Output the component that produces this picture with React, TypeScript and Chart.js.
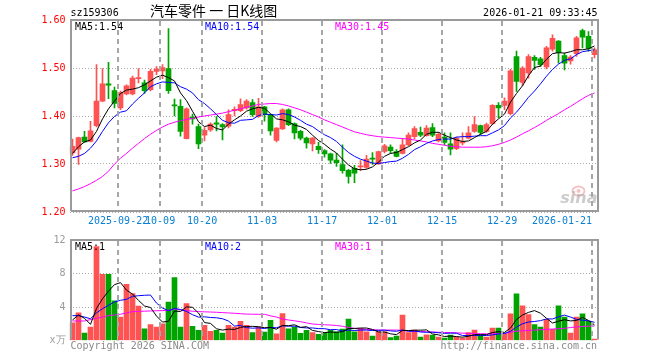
import React, { useEffect, useRef } from "react";
import { Chart, registerables } from "chart.js";

Chart.register(...registerables);

const dates = [
  "2025-09-10","2025-09-11","2025-09-12","2025-09-15","2025-09-16","2025-09-17","2025-09-18","2025-09-19","2025-09-22","2025-09-23",
  "2025-09-24","2025-09-25","2025-09-26","2025-09-29","2025-09-30","2025-10-09","2025-10-10","2025-10-13","2025-10-14","2025-10-15",
  "2025-10-16","2025-10-17","2025-10-20","2025-10-21","2025-10-22","2025-10-23","2025-10-24","2025-10-27","2025-10-28","2025-10-29",
  "2025-10-30","2025-10-31","2025-11-03","2025-11-04","2025-11-05","2025-11-06","2025-11-07","2025-11-10","2025-11-11","2025-11-12",
  "2025-11-13","2025-11-14","2025-11-17","2025-11-18","2025-11-19","2025-11-20","2025-11-21","2025-11-24","2025-11-25","2025-11-26",
  "2025-11-27","2025-11-28","2025-12-01","2025-12-02","2025-12-03","2025-12-04","2025-12-05","2025-12-08","2025-12-09","2025-12-10",
  "2025-12-11","2025-12-12","2025-12-15","2025-12-16","2025-12-17","2025-12-18","2025-12-19","2025-12-22","2025-12-23","2025-12-24",
  "2025-12-25","2025-12-26","2025-12-29","2025-12-30","2025-12-31","2026-01-05","2026-01-06","2026-01-07","2026-01-08","2026-01-09",
  "2026-01-12","2026-01-13","2026-01-14","2026-01-15","2026-01-16","2026-01-19","2026-01-20","2026-01-21",
];

const opens = [
  1.323,1.331,1.356,1.347,1.380,1.431,1.467,1.453,1.417,1.446,
  1.446,1.478,1.469,1.455,1.493,1.494,1.499,1.423,1.420,1.353,
  1.398,1.378,1.360,1.371,1.386,1.382,1.379,1.411,1.411,1.417,
  1.428,1.399,1.419,1.403,1.349,1.373,1.413,1.384,1.368,1.354,
  1.342,1.337,1.328,1.321,1.308,1.299,1.287,1.291,1.294,1.293,
  1.311,1.300,1.326,1.335,1.326,1.322,1.340,1.357,1.366,1.359,
  1.376,1.348,1.356,1.342,1.332,1.344,1.354,1.368,1.380,1.368,
  1.384,1.422,1.422,1.405,1.524,1.470,1.490,1.522,1.519,1.502,
  1.539,1.556,1.526,1.515,1.530,1.578,1.566,1.528,
];
const highs = [
  1.352,1.356,1.368,1.389,1.507,1.499,1.512,1.460,1.452,1.465,
  1.483,1.499,1.475,1.497,1.503,1.507,1.582,1.435,1.434,1.417,
  1.404,1.383,1.376,1.386,1.399,1.384,1.413,1.419,1.436,1.434,
  1.434,1.437,1.420,1.404,1.376,1.415,1.415,1.386,1.370,1.356,
  1.355,1.345,1.330,1.323,1.322,1.340,1.289,1.297,1.307,1.318,
  1.324,1.327,1.341,1.340,1.330,1.353,1.365,1.378,1.377,1.380,
  1.384,1.366,1.365,1.365,1.356,1.365,1.378,1.399,1.381,1.385,
  1.424,1.428,1.438,1.497,1.535,1.503,1.528,1.526,1.522,1.545,
  1.569,1.557,1.531,1.526,1.566,1.581,1.576,1.542,
];
const lows = [
  1.318,1.299,1.345,1.346,1.377,1.430,1.436,1.417,1.413,1.444,
  1.444,1.469,1.447,1.452,1.486,1.478,1.447,1.400,1.358,1.352,
  1.383,1.332,1.348,1.368,1.369,1.350,1.375,1.400,1.409,1.414,
  1.399,1.397,1.389,1.360,1.346,1.372,1.380,1.352,1.350,1.333,
  1.327,1.322,1.314,1.301,1.295,1.281,1.260,1.261,1.286,1.291,
  1.299,1.299,1.323,1.322,1.315,1.321,1.338,1.352,1.357,1.358,
  1.357,1.346,1.340,1.319,1.330,1.340,1.352,1.366,1.361,1.366,
  1.382,1.396,1.413,1.402,1.451,1.463,1.479,1.497,1.503,1.498,
  1.535,1.510,1.496,1.508,1.524,1.542,1.535,1.521,
];
const closes = [
  1.337,1.355,1.346,1.369,1.431,1.467,1.464,1.426,1.449,1.463,
  1.479,1.480,1.453,1.493,1.498,1.501,1.453,1.421,1.368,1.415,
  1.394,1.342,1.370,1.383,1.383,1.377,1.403,1.414,1.424,1.431,
  1.403,1.419,1.403,1.369,1.375,1.413,1.382,1.365,1.354,1.344,
  1.354,1.330,1.321,1.308,1.303,1.286,1.274,1.281,1.295,1.310,
  1.310,1.326,1.338,1.328,1.316,1.340,1.360,1.374,1.360,1.375,
  1.360,1.362,1.345,1.331,1.354,1.345,1.365,1.382,1.366,1.382,
  1.422,1.417,1.431,1.494,1.472,1.500,1.524,1.516,1.507,1.542,
  1.562,1.532,1.510,1.523,1.563,1.564,1.541,1.538,
];
const ma5 = [
  1.322,1.336,1.346,1.350,1.368,1.394,1.415,1.431,1.447,1.454,
  1.456,1.459,1.465,1.473,1.481,1.485,1.480,1.473,1.448,1.432,
  1.410,1.388,1.378,1.381,1.374,1.371,1.383,1.392,1.400,1.410,
  1.415,1.418,1.416,1.405,1.394,1.392,1.388,1.381,1.378,1.372,
  1.360,1.349,1.341,1.331,1.323,1.310,1.298,1.290,1.288,1.289,
  1.294,1.304,1.316,1.322,1.324,1.330,1.336,1.344,1.350,1.362,
  1.366,1.366,1.360,1.355,1.350,1.347,1.348,1.355,1.362,1.368,
  1.383,1.394,1.404,1.429,1.447,1.463,1.484,1.501,1.504,1.518,
  1.530,1.532,1.531,1.534,1.538,1.538,1.540,1.546,
];
const ma10 = [
  1.313,1.316,1.322,1.333,1.348,1.368,1.386,1.399,1.408,1.411,
  1.425,1.437,1.448,1.461,1.467,1.471,1.470,1.469,1.461,1.456,
  1.448,1.434,1.426,1.415,1.403,1.391,1.386,1.385,1.391,1.392,
  1.393,1.401,1.404,1.403,1.402,1.405,1.403,1.398,1.391,1.383,
  1.378,1.369,1.361,1.355,1.347,1.335,1.324,1.316,1.310,1.306,
  1.302,1.301,1.303,1.305,1.306,1.312,1.320,1.330,1.336,1.343,
  1.348,1.351,1.352,1.352,1.356,1.357,1.357,1.358,1.359,1.359,
  1.365,1.371,1.380,1.396,1.408,1.423,1.439,1.452,1.467,1.483,
  1.497,1.508,1.516,1.519,1.528,1.534,1.536,1.538,
];
const ma30 = [
  1.244,1.248,1.253,1.259,1.266,1.274,1.285,1.300,1.312,1.322,
  1.333,1.343,1.353,1.362,1.370,1.377,1.383,1.387,1.390,1.393,
  1.395,1.398,1.400,1.402,1.404,1.406,1.409,1.412,1.415,1.418,
  1.421,1.424,1.425,1.426,1.426,1.424,1.421,1.417,1.413,1.408,
  1.403,1.398,1.392,1.387,1.382,1.377,1.372,1.367,1.364,1.361,
  1.359,1.357,1.356,1.355,1.354,1.353,1.352,1.350,1.348,1.346,
  1.343,1.341,1.339,1.337,1.336,1.335,1.335,1.335,1.335,1.336,
  1.338,1.341,1.345,1.350,1.356,1.363,1.369,1.376,1.383,1.391,
  1.398,1.405,1.413,1.420,1.428,1.436,1.443,1.448,
];
const volumes = [
  2.1,3.3,0.9,1.6,11.2,7.9,7.9,4.75,2.8,6.7,
  5.6,4.1,1.4,1.9,1.6,2.0,4.6,7.5,1.6,4.4,
  1.7,1.2,1.8,1.1,1.2,0.9,1.8,1.6,2.3,1.8,
  0.95,1.6,1.0,2.4,0.8,3.2,1.4,1.6,0.85,1.2,
  0.95,0.75,0.95,1.2,1.04,1.37,2.57,1.04,1.45,1.04,
  0.52,1.04,1.04,0.36,0.52,3.05,0.96,1.24,0.40,0.68,
  0.64,0.40,0.28,0.64,0.40,0.28,0.96,1.24,0.64,0.40,
  1.49,1.49,0.84,3.17,5.58,4.14,3.09,1.89,1.61,2.53,
  1.33,4.14,2.81,0.88,2.81,3.17,2.29,0.16,
];
const volMa5 = [
  2.45,3.05,2.65,1.93,3.82,4.98,5.90,6.67,6.91,6.01,
  5.55,4.79,4.12,3.94,2.92,2.20,2.30,3.52,3.46,4.02,
  3.96,3.28,2.14,2.04,1.40,1.24,1.36,1.32,1.56,1.68,
  1.69,1.65,1.53,1.55,1.35,1.80,1.76,1.88,1.57,1.65,
  1.20,1.07,0.94,1.01,0.98,1.06,1.43,1.44,1.49,1.49,
  1.32,1.02,1.02,0.80,0.70,1.20,1.19,1.23,1.23,1.27,
  0.78,0.67,0.48,0.53,0.47,0.40,0.51,0.70,0.70,0.70,
  0.95,1.05,0.97,1.48,2.51,3.04,3.36,3.57,3.26,2.65,
  2.09,2.30,2.48,2.34,2.39,2.76,2.39,1.86,
];
const volMa10 = [
  2.97,2.97,2.80,2.60,3.30,3.80,4.20,4.60,4.80,4.92,
  5.27,5.35,5.40,5.43,4.47,3.88,3.55,3.82,3.70,3.47,
  3.08,2.79,2.83,2.75,2.71,2.60,2.32,1.73,1.80,1.54,
  1.47,1.51,1.43,1.56,1.52,1.75,1.71,1.71,1.56,1.50,
  1.50,1.42,1.41,1.29,1.31,1.13,1.25,1.19,1.25,1.24,
  1.19,1.22,1.23,1.15,1.10,1.26,1.10,1.12,1.02,0.98,
  0.99,0.93,0.85,0.88,0.87,0.59,0.59,0.59,0.62,0.59,
  0.67,0.78,0.84,1.09,1.61,2.00,2.21,2.27,2.37,2.58,
  2.57,2.83,3.03,2.80,2.52,2.43,2.35,2.17,
];
const volMa30 = [
  2.33,2.33,2.33,2.50,2.65,2.80,2.97,3.05,3.13,3.30,
  3.45,3.48,3.50,3.53,3.55,3.57,3.60,3.75,3.65,3.57,
  3.50,3.45,3.42,3.40,3.37,3.33,3.29,3.25,3.20,3.15,
  3.14,3.13,3.13,2.95,2.80,2.57,2.45,2.35,2.25,2.10,
  1.97,1.92,1.88,1.85,1.79,1.70,1.55,1.45,1.37,1.32,
  1.28,1.25,1.25,1.25,1.25,1.20,1.14,1.10,1.07,1.04,
  1.01,0.98,0.96,0.94,0.92,0.88,0.85,0.82,0.81,0.80,
  0.80,0.82,0.85,0.98,1.12,1.16,1.20,1.24,1.28,1.33,
  1.37,1.41,1.45,1.55,1.62,1.68,1.71,1.73,
];

const tickDates = ["2025-09-22","2025-10-09","2025-10-20","2025-11-03","2025-11-17","2025-12-01","2025-12-15","2025-12-29","2026-01-21"];
const tickLabels = ["2025-09-22","10-09","10-20","11-03","11-17","12-01","12-15","12-29","2026-01-21"];
const priceTicks = [1.2, 1.3, 1.4, 1.5, 1.6];
const volumeTicks = [0, 4, 8, 12];
const priceLegend = ["MA5:1.54", "MA10:1.54", "MA30:1.45"];
const volumeLegend = ["MA5:1", "MA10:2", "MA30:1"];
const symbolText = "sz159306";
const titleText = "汽车零件 一 日K线图";
const timeText = "2026-01-21 09:33:45";
const copyrightText = "Copyright 2026 SINA.COM";
const urlText = "http://finance.sina.com.cn";

const MONO = '"DejaVu Sans Mono", monospace';
const UP = "#ff5252";
const DOWN = "#00a400";
const LINE_COLORS = ["#000000", "#0000ff", "#ff00ff"];

// frame around the plot plus dashed vertical grid at the x ticks
function makeFrame(drawBottom: boolean) {
  return {
    id: "frame",
    afterDraw(chart: any) {
      const { ctx, chartArea } = chart;
      const xs = chart.scales.x;
      ctx.save();
      ctx.strokeStyle = "#a6a6a6";
      ctx.lineWidth = 2;
      ctx.setLineDash([5, 4]);
      const n = xs.ticks.length;
      for (let i = 1; i < n; i++) {
        const px = Math.round(xs.getPixelForTick(i));
        ctx.beginPath();
        ctx.moveTo(px, chartArea.top + 1);
        ctx.lineTo(px, chartArea.bottom);
        ctx.stroke();
      }
      ctx.setLineDash([]);
      const xL = Math.round(chartArea.left) + 1;
      const xR = Math.round(chartArea.right);
      const yT = chartArea.top;
      const yB = chartArea.bottom - 1;
      ctx.strokeStyle = "#9a9a9a";
      ctx.beginPath();
      ctx.moveTo(xL, yB);
      ctx.lineTo(xL, yT);
      ctx.lineTo(xR, yT);
      ctx.lineTo(xR, yB);
      if (drawBottom) ctx.lineTo(xL, yB);
      ctx.stroke();
      ctx.restore();
    },
  };
}

function drawLegend(chart: any, items: string[], dy: number) {
  const { ctx, chartArea } = chart;
  ctx.save();
  ctx.font = `10px ${MONO}`;
  ctx.textBaseline = "alphabetic";
  ctx.textAlign = "left";
  items.forEach((t, k) => {
    ctx.fillStyle = LINE_COLORS[k];
    ctx.fillText(t, chartArea.left + 5.5 + k * 130, chartArea.top + dy);
  });
  ctx.restore();
}

const priceTexts = {
  id: "priceTexts",
  beforeDatasetsDraw(chart: any) {
    const { ctx, chartArea } = chart;
    ctx.save();
    ctx.strokeStyle = "rgba(230,120,120,0.45)";
    ctx.lineWidth = 2;
    ctx.beginPath();
    ctx.ellipse(chartArea.right - 19, chartArea.bottom - 21, 6, 4.5, 0, 0, Math.PI * 2);
    ctx.stroke();
    ctx.fillStyle = "rgba(230,120,120,0.45)";
    ctx.beginPath();
    ctx.arc(chartArea.right - 19, chartArea.bottom - 21, 2, 0, Math.PI * 2);
    ctx.fill();
    ctx.font = 'italic bold 16px "DejaVu Sans", sans-serif';
    ctx.fillStyle = "rgba(170,170,170,0.6)";
    ctx.textAlign = "right";
    ctx.textBaseline = "alphabetic";
    ctx.fillText("sina", chartArea.right, chartArea.bottom - 9);
    ctx.restore();
  },
  afterDraw(chart: any) {
    const { ctx, chartArea } = chart;
    ctx.save();
    ctx.fillStyle = "#000";
    ctx.textBaseline = "alphabetic";
    ctx.font = `10px ${MONO}`;
    ctx.textAlign = "left";
    ctx.fillText(symbolText, chartArea.left + 1, chartArea.top - 4);
    ctx.textAlign = "right";
    ctx.fillText(timeText, chartArea.right, chartArea.top - 4.5);
    ctx.textAlign = "left";
    ctx.font = '14px "Noto Sans CJK SC", sans-serif';
    ctx.fillText(titleText, chartArea.left + 80.5, chartArea.top - 4);
    ctx.restore();
    drawLegend(chart, priceLegend, 9.5);
  },
};

const volumeTexts = {
  id: "volumeTexts",
  afterDraw(chart: any) {
    const { ctx, chartArea } = chart;
    drawLegend(chart, volumeLegend, 10);
    ctx.save();
    ctx.font = `10px ${MONO}`;
    ctx.fillStyle = "#8a8a8a";
    ctx.textBaseline = "alphabetic";
    ctx.textAlign = "left";
    ctx.fillText(copyrightText, chartArea.left + 1, chartArea.bottom + 8.5);
    ctx.textAlign = "right";
    ctx.fillText(urlText, chartArea.right - 0.5, chartArea.bottom + 8.5);
    ctx.restore();
  },
};

function xScale(showLabels: boolean) {
  return {
    type: "category",
    offset: true,
    afterBuildTicks: (scale: any) => {
      scale.ticks = [{ value: -0.5 }, ...tickDates.map((d) => ({ value: dates.indexOf(d) - 0.4 }))];
    },
    grid: { display: false, offset: false, drawTicks: false },
    border: { display: false },
    ticks: {
      display: showLabels,
      autoSkip: false,
      maxRotation: 0,
      minRotation: 0,
      align: "inner",
      padding: 3,
      color: "#0a80d2",
      font: { family: MONO, size: 10 },
      callback: (_v: any, i: number) => (i === 0 ? "" : tickLabels[i - 1]),
    },
  };
}

function lineSet(label: string, data: number[], color: string) {
  return {
    type: "line",
    label,
    data,
    borderColor: color,
    borderWidth: 1,
    pointRadius: 0,
    tension: 0,
    fill: false,
    order: 0,
  };
}

export default function App() {
  const priceRef = useRef<HTMLCanvasElement>(null);
  const volRef = useRef<HTMLCanvasElement>(null);

  useEffect(() => {
    const colors = closes.map((c, i) => (c >= opens[i] ? UP : DOWN));

    const priceChart = new Chart(priceRef.current as HTMLCanvasElement, {
      type: "bar",
      data: {
        labels: dates,
        datasets: [
          lineSet("MA5", ma5, LINE_COLORS[0]),
          lineSet("MA10", ma10, LINE_COLORS[1]),
          lineSet("MA30", ma30, LINE_COLORS[2]),
          {
            type: "bar",
            label: "body",
            data: opens.map((o, i) => [o, closes[i]]),
            backgroundColor: colors,
            barThickness: 5,
            grouped: false,
            minBarLength: 1,
            order: 1,
          },
          {
            type: "bar",
            label: "wick",
            data: lows.map((l, i) => [l, highs[i]]),
            backgroundColor: colors,
            barThickness: 1,
            grouped: false,
            order: 2,
          },
        ] as any,
      },
      options: {
        responsive: false,
        animation: false,
        devicePixelRatio: 1,
        events: [],
        layout: { padding: { left: 0, right: 62.5, top: 20, bottom: 0 } },
        plugins: { legend: { display: false }, tooltip: { enabled: false } },
        scales: {
          x: xScale(true) as any,
          y: {
            min: 1.2,
            max: 1.6,
            afterBuildTicks: (s: any) => {
              s.ticks = priceTicks.map((v) => ({ value: v }));
            },
            afterFit: (s: any) => {
              s.width = 69.5;
            },
            grid: { drawTicks: false, color: "#a8a8a8", lineWidth: 1 },
            border: { display: false, dash: [1, 2] },
            ticks: {
              color: "#ff0000",
              padding: 4,
              font: { family: MONO, size: 10 },
              callback: (v: any) => Number(v).toFixed(2),
            },
          } as any,
        },
      },
      plugins: [makeFrame(true), priceTexts],
    });

    const volChart = new Chart(volRef.current as HTMLCanvasElement, {
      type: "bar",
      data: {
        labels: dates,
        datasets: [
          lineSet("MA5", volMa5, LINE_COLORS[0]),
          lineSet("MA10", volMa10, LINE_COLORS[1]),
          lineSet("MA30", volMa30, LINE_COLORS[2]),
          {
            type: "bar",
            label: "volume",
            data: volumes,
            backgroundColor: colors,
            barThickness: 5,
            grouped: false,
            order: 1,
          },
        ] as any,
      },
      options: {
        responsive: false,
        animation: false,
        devicePixelRatio: 1,
        events: [],
        layout: { padding: { left: 0, right: 62.5, top: 10, bottom: 19.5 } },
        plugins: { legend: { display: false }, tooltip: { enabled: false } },
        scales: {
          x: xScale(false) as any,
          y: {
            min: 0,
            max: 12,
            afterBuildTicks: (s: any) => {
              s.ticks = volumeTicks.map((v) => ({ value: v }));
            },
            afterFit: (s: any) => {
              s.width = 69.5;
            },
            grid: {
              drawTicks: false,
              lineWidth: 1,
              color: (c: any) => (c.tick && c.tick.value === 0 ? "rgba(0,0,0,0)" : "#a8a8a8"),
            },
            border: { display: false, dash: [1, 2] },
            ticks: {
              color: "#9a9a9a",
              padding: 4,
              font: { family: MONO, size: 10 },
              callback: (v: any) => (Number(v) === 0 ? "x万" : String(v)),
            },
          } as any,
        },
      },
      plugins: [makeFrame(false), volumeTexts],
    });

    return () => {
      priceChart.destroy();
      volChart.destroy();
    };
  }, []);

  return (
    <div style={{ position: "absolute", left: 0, top: 0, width: 660, height: 360, background: "#fff" }}>
      <div style={{ position: "absolute", left: 0, top: 0, width: 660, height: 230 }}>
        <canvas ref={priceRef} width={660} height={230} style={{ display: "block" }} />
      </div>
      <div style={{ position: "absolute", left: 0, top: 230, width: 660, height: 130 }}>
        <canvas ref={volRef} width={660} height={130} style={{ display: "block" }} />
      </div>
    </div>
  );
}
